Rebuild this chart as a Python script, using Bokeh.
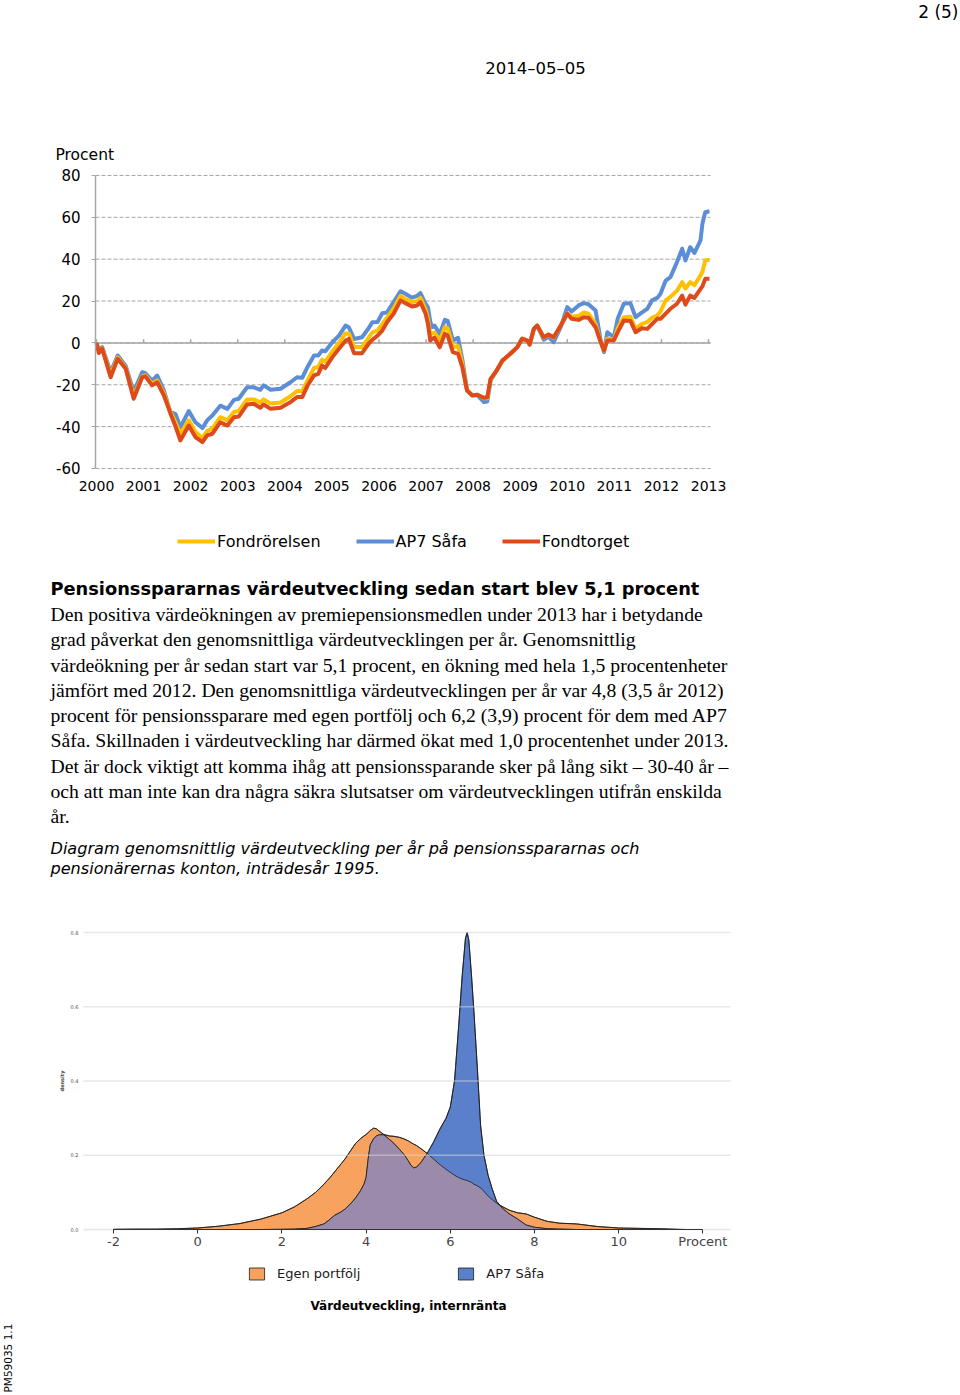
import numpy as np
from bokeh.plotting import figure
from bokeh.models import Range1d, FixedTicker, Legend, LegendItem, Label, PrintfTickFormatter
from bokeh.layouts import column
from bokeh.embed import file_html
from bokeh.resources import INLINE
from bokeh.core.properties import value

W = 960
SANS = "DejaVu Sans"
SERIF = "Liberation Serif"

# ---------------- line chart data (years since start, percent) ----------------
t_offset = [0.00, 0.05, 0.12, 0.30, 0.45, 0.62, 0.79, 0.97, 1.04, 1.18, 1.29, 1.43, 1.57, 1.68, 1.78,
            1.96, 2.10, 2.25, 2.35, 2.46, 2.63, 2.78, 2.92, 3.02, 3.20, 3.34, 3.48, 3.55, 3.70, 3.91,
            4.12, 4.26, 4.37, 4.48, 4.62, 4.71, 4.79, 4.86, 5.01, 5.15, 5.29, 5.36, 5.47, 5.64, 5.78,
            5.86, 5.97, 6.07, 6.17, 6.31, 6.46, 6.56, 6.70, 6.81, 6.88, 6.99, 7.04, 7.09, 7.13, 7.18,
            7.29, 7.40, 7.46, 7.57, 7.68, 7.77, 7.87, 7.98, 8.09, 8.23, 8.30, 8.37, 8.50, 8.62, 8.79,
            8.94, 9.04, 9.15, 9.20, 9.29, 9.36, 9.50, 9.60, 9.71, 9.86, 10.00, 10.09, 10.24, 10.35, 10.45,
            10.60, 10.71, 10.78, 10.85, 10.99, 11.07, 11.20, 11.34, 11.45, 11.58, 11.70, 11.80, 11.91, 11.98, 12.09,
            12.19, 12.33, 12.44, 12.51, 12.61, 12.70, 12.83, 12.87, 12.93, 13.02]

fondrorelsen = [0, -4.5, -2.5, -15.5, -7, -12, -25.5, -16, -15.5, -19.5, -18, -24, -33, -38, -43.5,
                -37, -42.5, -45.5, -42, -41, -35.5, -37, -33, -32.5, -27, -27, -28.5, -27, -29, -28.5,
                -25.5, -23, -23, -18, -12, -11.5, -8, -9, -4, 0, 4.5, 4.5, -2, -2, 2.5,
                5, 6, 9, 12, 16.5, 22.5, 21, 19.5, 20, 21.5, 16, 11.5, 4, 4.5, 5,
                1, 7.5, 7, -2, -1.5, -10, -22.7, -25, -24.8, -26.5, -26.5, -17.5, -13.2, -8.6, -5.2,
                -2, 2, 1.1, -0.8, 6.7, 8.3, 2.5, 4, 2.5, 8.3, 14, 12.5, 13, 14.5, 14,
                9, 0.5, -3.8, 2, 1.5, 7, 12.3, 12.5, 6.7, 9, 10, 12, 13.1, 15, 20.3,
                22, 25, 29, 26, 29, 27.6, 32.2, 34, 39.4, 39.7]

ap7_safa = [0, -3.5, -2, -14, -6, -11, -23.5, -14, -14.5, -18, -15.6, -22.7, -33, -34, -40.3,
            -32.6, -37.9, -40.7, -37, -34.7, -30, -31.5, -27.2, -26.7, -21.2, -21.2, -22.4, -20.3, -22.4, -21.9,
            -18.8, -16.4, -16.7, -11.6, -6, -6, -3.6, -4, 0.3, 3.5, 8.3, 7.5, 1.9, 2.7, 7,
            9.9, 10, 14.2, 14.5, 19.5, 24.7, 23.5, 21.6, 22.5, 23.8, 18.7, 17, 10, 7.5, 8.3,
            4.3, 11, 10.5, 1.1, 2.4, -8, -22.7, -25, -25, -28.3, -28, -18, -13.2, -8.6, -5.2,
            -2, 2, 1.1, -0.8, 6.7, 8.3, 1.5, 3, 0.3, 7.5, 17.1, 15, 17.9, 19, 18.5,
            15.5, 1.1, -4.4, 5.1, 2.7, 11.5, 18.7, 19, 12.3, 14.5, 16.3, 20.3, 21.5, 23.5, 29.8,
            31.4, 38.6, 45, 39.4, 45.7, 43, 49, 57, 62.4, 62.9]

fondtorget = [0, -4.8, -2.7, -16.4, -7.6, -12.4, -26.7, -16.4, -16, -20.3, -18.8, -25, -33.7, -40, -46.6,
              -39.5, -45, -47.4, -44.2, -43.4, -37.9, -39.5, -35.5, -35.2, -29.4, -29.1, -31, -29.4, -31.5, -31,
              -28.3, -25.9, -25.9, -20.5, -15.5, -14.8, -10.8, -12, -6.8, -2.8, 1, 1.9, -4.9, -4.9, -0.4,
              1.5, 3.5, 5.9, 9.9, 13.9, 20.3, 19, 17.4, 17.9, 19.5, 13.9, 9.1, 1.1, 2, 2.4,
              -2.1, 4.3, 3.5, -4.4, -5.2, -11.6, -22.7, -25.1, -24.8, -26.2, -26, -17.2, -13.2, -8.4, -5.2,
              -2, 2, 1.1, -0.8, 6.7, 8.3, 2.7, 4, 2.7, 8.3, 13.9, 11.5, 11, 12.3, 12,
              7.5, 0.3, -3.6, 1.1, 1.3, 5, 10.7, 10.5, 5.1, 7, 6.7, 9, 11.5, 11.5, 14,
              16.3, 18.7, 22.6, 18.3, 22.6, 21.5, 25.8, 27, 30.6, 30.6]

start_year = 2000
year_ticks = list(range(2000, 2014))
y_ticks = [-60, -40, -20, 0, 20, 40, 60, 80]
series_names = ["Fondrörelsen", "AP7 Såfa", "Fondtorget"]

# ---------------- density chart data ----------------
dens_x = [-2.0, -1.5, -1.0, -0.5, 0.0, 0.5, 1.0, 1.5, 2.0, 2.3, 2.6, 2.8, 3.0, 3.15, 3.25, 3.4, 3.5,
          3.63, 3.75, 3.87, 3.95, 4.0, 4.06, 4.1, 4.18, 4.25, 4.3, 4.42, 4.55, 4.66, 4.8, 4.9, 5.0,
          5.07, 5.13, 5.2, 5.3, 5.45, 5.6, 5.75, 5.9, 6.0, 6.1, 6.2, 6.28, 6.36, 6.4, 6.44, 6.5,
          6.56, 6.64, 6.72, 6.8, 6.9, 7.0, 7.1, 7.23, 7.4, 7.6, 7.8, 8.0, 8.3, 8.6, 9.0, 9.5,
          10.0, 10.5, 11.0, 11.4, 11.6]
dens_egen = [0.0005, 0.001, 0.001, 0.002, 0.004, 0.009, 0.016, 0.028, 0.045, 0.061, 0.083, 0.1, 0.122,
             0.141, 0.155, 0.176, 0.19, 0.212, 0.232, 0.245, 0.252, 0.256, 0.262, 0.267, 0.273, 0.271,
             0.266, 0.256, 0.252, 0.251, 0.248, 0.244, 0.239, 0.234, 0.23, 0.226, 0.218, 0.205, 0.19,
             0.175, 0.162, 0.154, 0.146, 0.14, 0.136, 0.133, 0.132, 0.13, 0.127, 0.122, 0.118, 0.112,
             0.103, 0.09, 0.08, 0.071, 0.062, 0.052, 0.045, 0.042, 0.033, 0.022, 0.017, 0.015, 0.008,
             0.004, 0.003, 0.002, 0.0005, 0.0]
dens_ap7 = [0.0, 0.0, 0.0, 0.0, 0.0, 0.0, 0.0, 0.0, 0.0005, 0.001, 0.003, 0.008, 0.015, 0.028, 0.038,
            0.047, 0.055, 0.069, 0.085, 0.105, 0.122, 0.14, 0.2, 0.228, 0.245, 0.252, 0.255, 0.255,
            0.243, 0.232, 0.215, 0.202, 0.185, 0.172, 0.166, 0.168, 0.18, 0.205, 0.235, 0.27, 0.3,
            0.33, 0.4, 0.55, 0.68, 0.785, 0.8, 0.78, 0.69, 0.59, 0.44, 0.28, 0.2, 0.145, 0.108, 0.076,
            0.058, 0.042, 0.028, 0.012, 0.006, 0.002, 0.001, 0.0, 0.0, 0.0, 0.0, 0.0, 0.0, 0.0]
dens_x_ticks = [-2, 0, 2, 4, 6, 8, 10, 12]
dens_y_ticks = [0.0, 0.2, 0.4, 0.6, 0.8]

# ---------------- text ----------------
page_no = "2 (5)"
date_text = "2014–05–05"
heading = "Pensionsspararnas värdeutveckling sedan start blev 5,1 procent"
body_lines = [
    "Den positiva värdeökningen av premiepensionsmedlen under 2013 har i betydande",
    "grad påverkat den genomsnittliga värdeutvecklingen per år. Genomsnittlig",
    "värdeökning per år sedan start var 5,1 procent, en ökning med hela 1,5 procentenheter",
    "jämfört med 2012. Den genomsnittliga värdeutvecklingen per år var 4,8 (3,5 år 2012)",
    "procent för pensionssparare med egen portfölj och 6,2 (3,9) procent för dem med AP7",
    "Såfa. Skillnaden i värdeutveckling har därmed ökat med 1,0 procentenhet under 2013.",
    "Det är dock viktigt att komma ihåg att pensionssparande sker på lång sikt – 30-40 år –",
    "och att man inte kan dra några säkra slutsatser om värdeutvecklingen utifrån enskilda",
    "år.",
]
caption_lines = [
    "Diagram genomsnittlig värdeutveckling per år på pensionsspararnas och",
    "pensionärernas konton, inträdesår 1995.",
]

# =============== figure A: header + line chart (frame = whole figure) ===============
GRAY = "#a6a6a6"
HA = 565
PX_YEAR = 47.08
PX_PCT = 2.093
x0_year = 2000 - 96 / PX_YEAR          # left edge of the figure
y_top = 342.4 / PX_PCT                 # top edge of the figure
pA = figure(width=W, height=HA, output_backend="svg", toolbar_location=None,
            x_range=Range1d(x0_year, x0_year + W / PX_YEAR),
            y_range=Range1d(y_top - HA / PX_PCT, y_top), min_border=0)
pA.outline_line_color = None
pA.grid.visible = False

axis_x = 2000 - 1 / PX_YEAR
right_x = 2000 + 614 / PX_YEAR
n_y = len(y_ticks)
# dashed horizontal gridlines
pA.segment(x0=[axis_x] * n_y, y0=y_ticks, x1=[right_x] * n_y, y1=y_ticks,
           line_color=GRAY, line_width=1, line_dash="4 2")
# solid zero line with small year ticks
pA.segment(x0=[axis_x], y0=[0], x1=[right_x], y1=[0], line_color=GRAY, line_width=1.5)
pA.segment(x0=year_ticks, y0=[0] * len(year_ticks), x1=year_ticks, y1=[1.8] * len(year_ticks),
           line_color=GRAY, line_width=1.5)

pA.yaxis.fixed_location = axis_x
pA.yaxis.bounds = (y_ticks[0], y_ticks[-1])
pA.yaxis.ticker = FixedTicker(ticks=y_ticks)
pA.yaxis.major_label_overrides = {v: str(v) for v in y_ticks}
pA.yaxis.axis_line_color = GRAY
pA.yaxis.axis_line_width = 1.5
pA.yaxis.major_tick_line_color = GRAY
pA.yaxis.major_tick_out = 4
pA.yaxis.major_tick_in = 0
pA.yaxis.minor_tick_line_color = None
pA.yaxis.major_label_standoff = 11
pA.yaxis.major_label_text_font = SANS
pA.yaxis.major_label_text_font_size = "15px"
pA.yaxis.major_label_text_color = "black"

pA.xaxis.fixed_location = y_ticks[0]
pA.xaxis.ticker = FixedTicker(ticks=year_ticks)
pA.xaxis.major_label_overrides = {v: str(v) for v in year_ticks}
pA.xaxis.axis_line_color = None
pA.xaxis.major_tick_line_color = None
pA.xaxis.minor_tick_line_color = None
pA.xaxis.major_tick_out = 0
pA.xaxis.major_tick_in = 0
pA.xaxis.major_label_standoff = 13
pA.xaxis.major_label_text_font = SANS
pA.xaxis.major_label_text_font_size = "14px"
pA.xaxis.major_label_text_color = "black"

xs_years = [start_year + t for t in t_offset]
r_blue = pA.line(xs_years, ap7_safa, line_color="#5B8ED6", line_width=4, line_join="round")
r_yel = pA.line(xs_years, fondrorelsen, line_color="#FFC000", line_width=4, line_join="round")
r_red = pA.line(xs_years, fondtorget, line_color="#DE4A1C", line_width=4, line_join="round")

# legend: location = (left, bottom) in pixels from the figure's bottom-left
legA = Legend(items=[LegendItem(label=series_names[0], renderers=[r_yel]),
                     LegendItem(label=series_names[1], renderers=[r_blue]),
                     LegendItem(label=series_names[2], renderers=[r_red])],
              orientation="horizontal", location=(177, HA - 551), glyph_width=38, glyph_height=20,
              label_height=20, label_standoff=2, spacing=35, padding=0, margin=0,
              border_line_color=None, background_fill_alpha=0,
              label_text_font=SANS, label_text_font_size="16px", label_text_color="black")
pA.add_layout(legA, "center")

pA.add_layout(Label(x=958, y=HA - 1, x_units="screen", y_units="screen", text=page_no,
                    text_align="right", text_baseline="top", text_font=SANS, text_font_size="17px",
                    text_color="black"))
pA.add_layout(Label(x=535, y=HA - 68, x_units="screen", y_units="screen", text=date_text,
                    text_align="center", text_baseline="middle", text_font=SANS, text_font_size="16.5px",
                    text_color="black"))
pA.add_layout(Label(x=55, y=HA - 154, x_units="screen", y_units="screen", text="Procent",
                    text_align="left", text_baseline="middle", text_font=SANS, text_font_size="15.5px",
                    text_color="black"))

# =============== figure B: text block ===============
HB = 330
pB = figure(width=W, height=HB, output_backend="svg", toolbar_location=None,
            x_range=Range1d(0, W), y_range=Range1d(HB, 0), x_axis_type=None, y_axis_type=None,
            min_border=0)
pB.outline_line_color = None
pB.grid.visible = False
pB.text(x=[50], y=[23], text=[heading], text_font=value(SANS), text_font_style="bold",
        text_font_size="17.8px", text_baseline="middle", text_color="black")
pB.text(x=[50] * len(body_lines), y=[48.5 + 25.25 * i for i in range(len(body_lines))], text=body_lines,
        text_font=value(SERIF), text_font_size="19.7px", text_baseline="middle", text_color="black")
pB.text(x=[50] * len(caption_lines), y=[283 + 20 * i for i in range(len(caption_lines))], text=caption_lines,
        text_font=value(SANS), text_font_style="italic", text_font_size="16.1px",
        text_baseline="middle", text_color="black")

# =============== figure C: density chart (frame = whole figure) ===============
HC = 500
TOP_C = 895
PX_X = 42.1
PX_D = 371.25
xc0 = -2 - 113 / PX_X                  # left edge of figure
yc_top = (1229 - TOP_C) / PX_D         # top edge of figure
pC = figure(width=W, height=HC, output_backend="svg", toolbar_location=None,
            x_range=Range1d(xc0, xc0 + W / PX_X), y_range=Range1d(yc_top - HC / PX_D, yc_top),
            min_border=0)
pC.outline_line_color = None
pC.grid.visible = False

grid_l = -2 - 30 / PX_X
grid_r = -2 + 617 / PX_X
pC.segment(x0=[grid_l], y0=[0], x1=[grid_r], y1=[0], line_color="#e6e6e6", line_width=1.3)

dx = np.array(dens_x)
de = np.array(dens_egen)
da = np.array(dens_ap7)
poly_x = np.concatenate([dx, dx[::-1]])
zeros = np.zeros_like(dx)
r_egen = pC.patch(poly_x, np.concatenate([de, zeros]), fill_color="#F8A25F", line_color="#1a1a1a", line_width=0.8)
r_ap7 = pC.patch(poly_x, np.concatenate([da, zeros]), fill_color="#5A7FCB", line_color="#1a1a1a", line_width=0.8)
pC.patch(poly_x, np.concatenate([np.minimum(de, da), zeros]), fill_color="#9C8AAA", line_color=None)
pC.line(dx, de, line_color="#1a1a1a", line_width=0.8)
pC.line(dx, da, line_color="#1a1a1a", line_width=0.8)

n_g = len(dens_y_ticks) - 1
pC.segment(x0=[grid_l] * n_g, y0=dens_y_ticks[1:], x1=[grid_r] * n_g, y1=dens_y_ticks[1:],
           line_color="#d4d4d4", line_alpha=0.55, line_width=1.3)

pC.xaxis.fixed_location = 0
pC.xaxis.ticker = FixedTicker(ticks=dens_x_ticks)
pC.xaxis.bounds = (dens_x_ticks[0], dens_x_ticks[-1])
overrides = {v: str(v) for v in dens_x_ticks}
overrides[12] = "Procent"
pC.xaxis.major_label_overrides = overrides
pC.xaxis.axis_line_color = "#333333"
pC.xaxis.axis_line_width = 1
pC.xaxis.major_tick_line_color = "#333333"
pC.xaxis.major_tick_out = 4
pC.xaxis.major_tick_in = 0
pC.xaxis.minor_tick_line_color = None
pC.xaxis.major_label_standoff = 0
pC.xaxis.major_label_text_font = SANS
pC.xaxis.major_label_text_font_size = "13px"
pC.xaxis.major_label_text_color = "#444444"

pC.yaxis.fixed_location = grid_l
pC.yaxis.bounds = (dens_y_ticks[0], dens_y_ticks[-1])
pC.yaxis.ticker = FixedTicker(ticks=dens_y_ticks)
pC.yaxis.formatter = PrintfTickFormatter(format="%.1f")
pC.yaxis.axis_line_color = None
pC.yaxis.major_tick_line_color = None
pC.yaxis.minor_tick_line_color = None
pC.yaxis.major_tick_out = 0
pC.yaxis.major_tick_in = 0
pC.yaxis.major_label_standoff = 5
pC.yaxis.major_label_text_font = SANS
pC.yaxis.major_label_text_font_size = "5px"
pC.yaxis.major_label_text_color = "#4d4d4d"
pC.yaxis.axis_label = "density"
pC.yaxis.axis_label_text_font = SANS
pC.yaxis.axis_label_text_font_size = "5px"
pC.yaxis.axis_label_text_font_style = "bold"
pC.yaxis.axis_label_standoff = 3

legC = Legend(items=[LegendItem(label="Egen portfölj", renderers=[r_egen]),
                     LegendItem(label="AP7 Såfa", renderers=[r_ap7])],
              orientation="horizontal", location=(247, HC - (1281 - TOP_C)), glyph_width=19, glyph_height=15,
              label_height=15, label_standoff=11, spacing=96, padding=0, margin=0,
              border_line_color=None, background_fill_alpha=0,
              label_text_font=SANS, label_text_font_size="13px", label_text_color="#1a1a1a")
pC.add_layout(legC, "center")

pC.add_layout(Label(x=408, y=HC - (1305 - TOP_C), x_units="screen", y_units="screen",
                    text="Värdeutveckling, internränta", text_align="center", text_baseline="middle",
                    text_font=SANS, text_font_size="12px", text_font_style="bold", text_color="black"))
pC.add_layout(Label(x=13, y=3, x_units="screen", y_units="screen", text="PM59035 1.1",
                    angle=np.pi / 2, text_align="left", text_baseline="bottom", text_font=SANS,
                    text_font_size="10.5px", text_color="black"))

page = column(pA, pB, pC, spacing=0)
open("out.html", "w").write(file_html(page, INLINE))
